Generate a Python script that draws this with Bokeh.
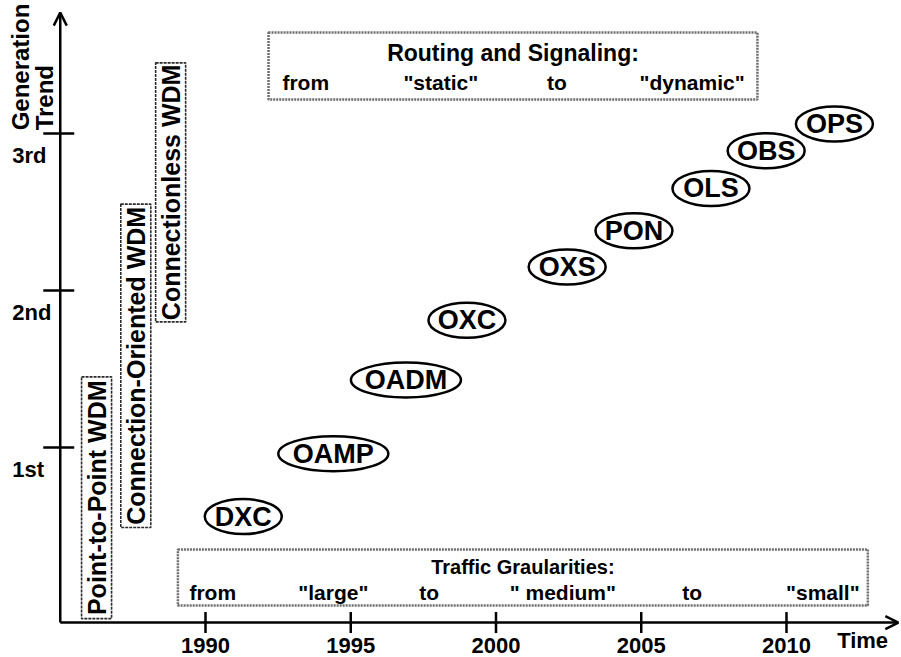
import numpy as np
from bokeh.plotting import figure
from bokeh.models import Range1d, Arrow, OpenHead
from bokeh.core.properties import value
from bokeh.embed import file_html
from bokeh.resources import INLINE

# ---------------- data ----------------
years = [1990, 1995, 2000, 2005, 2010]
year_labels = ["1990", "1995", "2000", "2005", "2010"]
gen_levels = [1, 2, 3]
gen_labels = ["1st", "2nd", "3rd"]

techs = ["DXC", "OAMP", "OADM", "OXC", "OXS", "PON", "OLS", "OBS", "OPS"]
tech_year = [1991.3, 1994.4, 1996.9, 1999.0, 2002.45, 2004.75, 2007.4, 2009.3, 2011.65]
tech_gen = [0.56, 0.96, 1.43, 1.81, 2.15, 2.38, 2.65, 2.89, 3.06]

wdm_names = ["Point-to-Point WDM", "Connection-Oriented WDM", "Connectionless WDM"]
wdm_year = [1986.25, 1987.6, 1988.8]
wdm_gen_start = [-0.09, 0.49, 1.80]
wdm_gen_end = [1.45, 2.55, 3.45]

routing_title = "Routing and Signaling:"
routing_words = ["from", "\"static\"", "to", "\"dynamic\""]
routing_word_year = [1993.45, 1998.1, 2002.1, 2006.75]
routing_year_span = [1992.17, 2009.0]
routing_gen_span = [3.217, 3.643]

traffic_title = "Traffic Graularities:"
traffic_words = ["from", "\"large\"", "to", "\" medium\"", "to", "\"small\""]
traffic_word_year = [1990.25, 1994.4, 1997.7, 2002.3, 2006.75, 2011.25]
traffic_year_span = [1989.05, 2012.8]
traffic_gen_span = [-0.006, 0.35]

# ---------------- layout helpers ----------------
PX_YEAR = 29.05   # pixels per year
PX_GEN = 157.0    # pixels per generation
X0 = 1985.0       # y-axis position (year)
Y0 = -0.115       # x-axis position (generation)
FONT = value("Liberation Sans")

p = figure(width=901, height=657,
           x_range=Range1d(1982.943, 2013.959),
           y_range=Range1d(-0.3376, 3.8471),
           output_backend="svg", toolbar_location=None,
           x_axis_location=None, y_axis_location=None,
           min_border=0)
p.outline_line_color = None
p.grid.visible = False
p.background_fill_color = "white"
p.border_fill_color = "white"

# ---- axes with arrows ----
p.add_layout(Arrow(end=OpenHead(size=13, line_width=2.5, line_color="black"),
                   x_start=X0, y_start=Y0, x_end=2013.85, y_end=Y0,
                   line_width=2.5, line_color="black"))
p.add_layout(Arrow(end=OpenHead(size=13, line_width=2.5, line_color="black"),
                   x_start=X0, y_start=Y0, x_end=X0, y_end=3.77,
                   line_width=2.5, line_color="black"))

# ticks
p.scatter(x=years, y=[Y0] * len(years), marker="dash", angle=np.pi / 2,
          size=21, line_width=2.5, line_color="black")
p.scatter(x=[X0 - 1.5 / PX_YEAR] * len(gen_levels), y=gen_levels, marker="dash",
          size=31, line_width=2.5, line_color="black")

# tick labels
p.text(x=years, y=[Y0 - 23 / PX_GEN] * len(years), text=year_labels,
       text_font=FONT, text_font_style="bold", text_font_size="22px",
       text_align="center", text_baseline="middle", text_color="black")
p.text(x=[X0 - 48 / PX_YEAR] * len(gen_levels),
       y=[g - 22 / PX_GEN for g in gen_levels], text=gen_labels,
       text_font=FONT, text_font_style="bold", text_font_size="22px",
       text_align="left", text_baseline="middle", text_color="black")
p.text(x=[2012.62], y=[Y0 - 18 / PX_GEN], text=["Time"],
       text_font=FONT, text_font_style="bold", text_font_size="22px",
       text_align="center", text_baseline="middle", text_color="black")
p.text(x=[X0 - 40 / PX_YEAR, X0 - 16 / PX_YEAR], y=[3.02, 3.02],
       text=["Generation", "Trend"], angle=np.pi / 2,
       text_font=FONT, text_font_style="bold", text_font_size="24px",
       text_align="left", text_baseline="middle", text_color="black")

# ---- horizontal boxes ----
p.quad(left=[routing_year_span[0], traffic_year_span[0]],
       right=[routing_year_span[1], traffic_year_span[1]],
       bottom=[routing_gen_span[0], traffic_gen_span[0]],
       top=[routing_gen_span[1], traffic_gen_span[1]],
       fill_color="white", line_color="#6e6e6e", line_width=2.5, line_dash="2 1")

p.text(x=[(routing_year_span[0] + routing_year_span[1]) / 2],
       y=[routing_gen_span[1] - 20 / PX_GEN], text=[routing_title],
       text_font=FONT, text_font_style="bold", text_font_size="23px",
       text_align="center", text_baseline="middle", text_color="black")
p.text(x=routing_word_year, y=[routing_gen_span[0] + 17 / PX_GEN] * len(routing_words),
       text=routing_words,
       text_font=FONT, text_font_style="bold", text_font_size="21px",
       text_align="center", text_baseline="middle", text_color="black")

p.text(x=[(traffic_year_span[0] + traffic_year_span[1]) / 2],
       y=[traffic_gen_span[1] - 17 / PX_GEN], text=[traffic_title],
       text_font=FONT, text_font_style="bold", text_font_size="20px",
       text_align="center", text_baseline="middle", text_color="black")
p.text(x=traffic_word_year, y=[traffic_gen_span[0] + 13 / PX_GEN] * len(traffic_words),
       text=traffic_words,
       text_font=FONT, text_font_style="bold", text_font_size="21px",
       text_align="center", text_baseline="middle", text_color="black")

# ---- vertical WDM boxes ----
wdm_mid = [(a + b) / 2 for a, b in zip(wdm_gen_start, wdm_gen_end)]
wdm_len = [b - a for a, b in zip(wdm_gen_start, wdm_gen_end)]
p.rect(x=wdm_year, y=wdm_mid, width=30, height=wdm_len, width_units="screen",
       fill_color="white", line_color="#2a2a2a", line_width=1.6, line_dash="3 1")
p.text(x=wdm_year, y=wdm_mid, text=wdm_names, angle=np.pi / 2,
       text_font=FONT, text_font_style="bold", text_font_size="25px",
       text_align="center", text_baseline="middle", text_color="black")

# ---- technology ellipses ----
ell_w = [33 * len(t) - 22 for t in techs]
p.ellipse(x=tech_year, y=tech_gen, width=ell_w, height=35,
          width_units="screen", height_units="screen",
          fill_color="white", line_color="black", line_width=2.5)
p.text(x=tech_year, y=tech_gen, text=techs,
       text_font=FONT, text_font_style="bold", text_font_size="27px",
       text_align="center", text_baseline="middle", text_color="black")

open("out.html", "w").write(file_html(p, INLINE))
